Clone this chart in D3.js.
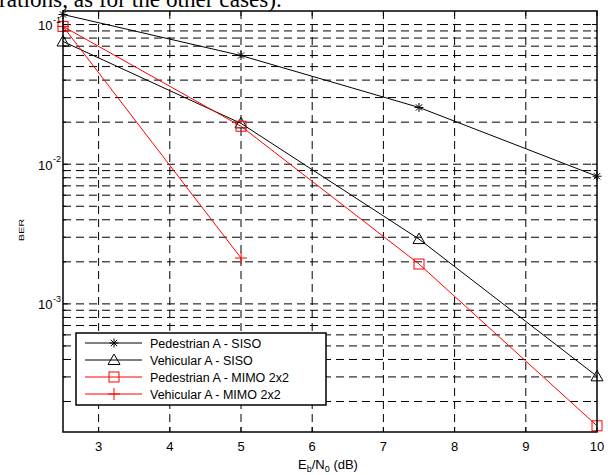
<!DOCTYPE html>
<html>
<head>
<meta charset="utf-8">
<script src="https://cdn.jsdelivr.net/npm/d3@7"></script>
<style>
  body { margin: 0; background: #fff; }
  svg { display: block; }
</style>
</head>
<body>
<div id="chart"></div>
<script>
// values
const ebn0 = [2.5, 5, 7.5, 10];
const pedSiso = [0.118, 0.060, 0.0255, 0.0082];
const vehSiso = [0.0756, 0.0196, 0.00291, 0.000303];
const pedMimo = [0.097, 0.0187, 0.00193, 0.000134];
const ebn0Short = [2.5, 5];
const vehMimo = [0.097, 0.00213];

const seriesNames = ['Pedestrian A - SISO', 'Vehicular A - SISO', 'Pedestrian A - MIMO 2x2', 'Vehicular A - MIMO 2x2'];
const seriesColors = ['#000', '#000', '#ff0000', '#ff0000'];
const seriesMarkers = ['star', 'triangle', 'square', 'plus'];

const xTicks = [3, 4, 5, 6, 7, 8, 9, 10];
const yDecades = [-1, -2, -3];

const series = [
  { x: ebn0, y: pedSiso },
  { x: ebn0, y: vehSiso },
  { x: ebn0, y: pedMimo },
  { x: ebn0Short, y: vehMimo }
].map((s, i) => ({
  name: seriesNames[i],
  color: seriesColors[i],
  marker: seriesMarkers[i],
  points: s.x.map((v, j) => ({ x: v, y: s.y[j] }))
}));

const W = 608, H = 475;
const plot = { left: 63, right: 597, top: 11, bottom: 432 };

const svg = d3.select('#chart').append('svg')
  .attr('width', W)
  .attr('height', H)
  .style('font-family', '"Liberation Sans", Arial, sans-serif');

// cropped line of the paper text above the figure, sized to span x 0..282
const paperText = svg.append('text')
  .attr('x', -1)
  .attr('y', 6.5)
  .style('font-family', '"Liberation Serif", "Times New Roman", serif')
  .style('font-size', '20px')
  .text('rations, as for the other cases).');
const ptLen = paperText.node().getComputedTextLength();
paperText.style('font-size', (20 * 283 / ptLen) + 'px');

const x = d3.scaleLinear().domain([2.5, 10]).range([plot.left, plot.right]);
const y = d3.scaleLog().domain([1.21e-4, 0.125]).range([plot.bottom, plot.top]);

// minor/major log ticks inside the domain
const yAll = [];
for (let e = -4; e <= -1; e++) {
  for (let m = 1; m <= 9; m++) {
    const v = m * Math.pow(10, e);
    if (v >= y.domain()[0] && v <= y.domain()[1]) yAll.push({ v, major: m === 1 });
  }
}
const xGrid = xTicks.filter(d => d < 10);

const grid = svg.append('g')
  .attr('stroke', '#000')
  .attr('stroke-width', 1)
  .attr('stroke-dasharray', '8,5')
  .attr('fill', 'none');

grid.selectAll('.hg')
  .data(yAll)
  .enter()
  .append('line')
  .attr('x1', plot.left)
  .attr('x2', plot.right)
  .attr('y1', d => y(d.v))
  .attr('y2', d => y(d.v));

grid.selectAll('.vg')
  .data(xGrid)
  .enter()
  .append('line')
  .attr('x1', d => x(d))
  .attr('x2', d => x(d))
  .attr('y1', plot.top)
  .attr('y2', plot.bottom);

// ticks (inward, all four sides)
const ticks = svg.append('g').attr('stroke', '#000').attr('stroke-width', 1);
xTicks.forEach(t => {
  ticks.append('line').attr('x1', x(t)).attr('x2', x(t)).attr('y1', plot.bottom).attr('y2', plot.bottom - 5);
  ticks.append('line').attr('x1', x(t)).attr('x2', x(t)).attr('y1', plot.top).attr('y2', plot.top + 5);
});
yAll.forEach(d => {
  const len = d.major ? 5 : 3;
  ticks.append('line').attr('x1', plot.left).attr('x2', plot.left + len).attr('y1', y(d.v)).attr('y2', y(d.v));
  ticks.append('line').attr('x1', plot.right).attr('x2', plot.right - len).attr('y1', y(d.v)).attr('y2', y(d.v));
});

// series lines
const line = d3.line().x(d => x(d.x)).y(d => y(d.y));
svg.append('g')
  .selectAll('path')
  .data(series)
  .enter()
  .append('path')
  .attr('d', d => line(d.points))
  .attr('fill', 'none')
  .attr('stroke', d => d.color)
  .attr('stroke-width', 1);

function drawMarker(g, type, cx, cy, color) {
  const m = g.append('g')
    .attr('transform', `translate(${cx},${cy})`)
    .attr('stroke', color)
    .attr('stroke-width', 1)
    .attr('fill', 'none');
  if (type === 'star') {
    const r = 4.5;
    [[0, 1], [1, 0], [0.7, 0.7], [0.7, -0.7]].forEach(([a, b]) => {
      m.append('line').attr('x1', -a * r).attr('y1', -b * r).attr('x2', a * r).attr('y2', b * r);
    });
  } else if (type === 'triangle') {
    m.append('path').attr('d', 'M0,-6L6,4.5L-6,4.5Z');
  } else if (type === 'square') {
    m.append('rect').attr('x', -5).attr('y', -5).attr('width', 10).attr('height', 10);
  } else if (type === 'plus') {
    m.append('line').attr('x1', -6).attr('x2', 6).attr('y1', 0).attr('y2', 0);
    m.append('line').attr('x1', 0).attr('x2', 0).attr('y1', -6).attr('y2', 6);
  }
}

const markers = svg.append('g');
series.forEach(s => {
  s.points.forEach(p => drawMarker(markers, s.marker, x(p.x), y(p.y), s.color));
});

// axes box
svg.append('rect')
  .attr('x', plot.left)
  .attr('y', plot.top)
  .attr('width', plot.right - plot.left)
  .attr('height', plot.bottom - plot.top)
  .attr('fill', 'none')
  .attr('stroke', '#000')
  .attr('stroke-width', 1.5);

// x tick labels
svg.append('g')
  .selectAll('text')
  .data(xTicks)
  .enter()
  .append('text')
  .attr('x', d => x(d))
  .attr('y', 451)
  .attr('text-anchor', 'middle')
  .style('font-size', '13px')
  .text(d => d);

// y tick labels: 10^k
const yl = svg.append('g');
yDecades.forEach(e => {
  const yy = y(Math.pow(10, e));
  yl.append('text')
    .attr('x', 52.5)
    .attr('y', yy + 5.5)
    .attr('text-anchor', 'end')
    .style('font-size', '13px')
    .text('10');
  yl.append('text')
    .attr('x', 53)
    .attr('y', yy - 2)
    .style('font-size', '9px')
    .text(e);
});

// axis labels
const xl = svg.append('text')
  .attr('x', 328)
  .attr('y', 469)
  .attr('text-anchor', 'middle')
  .style('font-size', '13px');
xl.append('tspan').text('E');
xl.append('tspan').attr('dy', 3).style('font-size', '9px').text('b');
xl.append('tspan').attr('dy', -3).text('/N');
xl.append('tspan').attr('dy', 3).style('font-size', '9px').text('0');
xl.append('tspan').attr('dy', -3).text(' (dB)');

svg.append('text')
  .attr('transform', 'translate(24,230) rotate(-90) scale(1,0.7)')
  .attr('text-anchor', 'middle')
  .style('font-size', '11px')
  .text('BER');

// legend
const lg = { x: 76, y: 333, w: 250, h: 72 };
const legend = svg.append('g');
legend.append('rect')
  .attr('x', lg.x)
  .attr('y', lg.y)
  .attr('width', lg.w)
  .attr('height', lg.h)
  .attr('fill', '#fff')
  .attr('stroke', '#000')
  .attr('stroke-width', 1.5);

series.forEach((s, i) => {
  const ry = lg.y + 10 + i * 17;
  legend.append('line')
    .attr('x1', lg.x + 9)
    .attr('x2', lg.x + 66)
    .attr('y1', ry)
    .attr('y2', ry)
    .attr('stroke', s.color)
    .attr('stroke-width', 1);
  drawMarker(legend, s.marker, lg.x + 38, ry, s.color);
  legend.append('text')
    .attr('x', lg.x + 74)
    .attr('y', ry + 4.5)
    .style('font-size', '12.5px')
    .text(s.name);
});
</script>
</body>
</html>
